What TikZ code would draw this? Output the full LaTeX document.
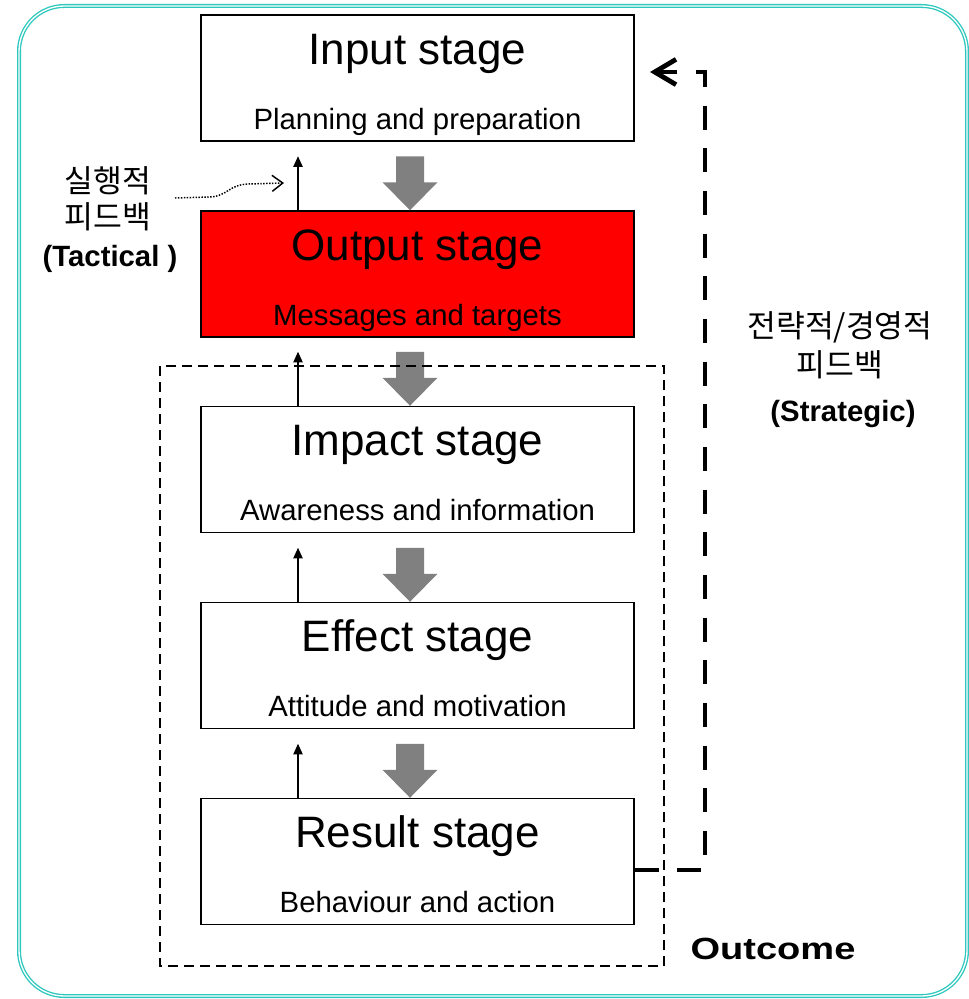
\documentclass[tikz,border=0pt]{standalone}
\usepackage{fontspec}
\setmainfont{Liberation Sans}
\newfontfamily\kr{Noto Sans CJK KR}
\usetikzlibrary{arrows.meta,calc}
\definecolor{frameteal}{RGB}{44,200,190}
\definecolor{stagered}{RGB}{255,0,0}
\definecolor{flowgray}{RGB}{128,128,128}

\tikzset{
  stagebox/.style={draw=black,line width=1.1pt,fill=white,
    minimum width=324.75pt,minimum height=94.5pt,inner sep=0pt},
  stagetitle/.style={anchor=base,inner sep=0pt,font=\fontsize{33}{36}\selectfont},
  stagesub/.style={anchor=base,inner sep=0pt,font=\fontsize{22}{24}\selectfont},
  krlabel/.style={anchor=base,inner sep=0pt,font=\kr\fontsize{23.5}{26}\selectfont},
  boldlabel/.style={anchor=base,inner sep=0pt,font=\bfseries\fontsize{22}{24}\selectfont},
  tacup/.style={line width=1.1pt,-{Triangle[length=8pt,width=7pt]}},
  strat/.style={line width=3.6pt,dash pattern=on 18pt off 14pt,
    -{Straight Barb[length=16pt,width=19pt]}},
  outline/.style={line width=1.1pt,dash pattern=on 7.5pt off 4.5pt},
  grayarrow/.pic={
    \fill[flowgray] (0,0) -- (-27.5,-28) -- (-14,-28) -- (-14,-54)
      -- (14,-54) -- (14,-28) -- (27.5,-28) -- cycle;
  },
}

\begin{document}
\begin{tikzpicture}[x=0.75pt,y=-0.75pt]
\useasboundingbox (0,0) rectangle (969,999);

% outer frame
\draw[frameteal,line width=1pt,double=white,double distance=1pt,rounded corners=34pt]
  (19,6) rectangle (967,996);

% stage boxes
\node[stagebox] (input) at (417.5,78) {};
\node[stagebox,fill=stagered] (output) at (417.5,274) {};
\node[stagebox] (impact) at (417.5,469.5) {};
\node[stagebox] (effect) at (417.5,665.5) {};
\node[stagebox] (result) at (417.5,861.5) {};

% stage titles and subtitles
\foreach \b/\t/\s in {input/Input stage/Planning and preparation,
                      output/Output stage/Messages and targets,
                      impact/Impact stage/Awareness and information,
                      effect/Effect stage/Attitude and motivation,
                      result/Result stage/Behaviour and action}{
  \node[stagetitle] (\b T) at ($(\b.north)+(0,50)$) {\t};
  \node[stagesub] (\b S) at ($(\b.north)+(0,115)$) {\s};
}

% downward flow arrows
\pic at ($(output.north)+(-7.5,0)$) {grayarrow};
\pic at ($(impact.north)+(-7.5,0)$) {grayarrow};
\pic at ($(effect.north)+(-7.5,0)$) {grayarrow};
\pic at ($(result.north)+(-7.5,0)$) {grayarrow};

% tactical feedback arrows
\draw[tacup] ($(output.north)+(-119.5,0)$) -- ++(0,-54);
\draw[tacup] ($(impact.north)+(-119.5,0)$) -- ++(0,-54);
\draw[tacup] ($(effect.north)+(-119.5,0)$) -- ++(0,-54);
\draw[tacup] ($(result.north)+(-119.5,0)$) -- ++(0,-54);

% outcome region
\draw[outline] (160,366) rectangle (664,966);

% tactical label and pointer
\node[krlabel] (tacA) at (108,192) {실행적};
\node[krlabel] (tacB) at (108,228) {피드백};
\node[boldlabel] (tacC) at (110,266) {(Tactical )};
\coordinate (dotA) at (175,198);
\coordinate (dotB) at (284,183);
\draw[line width=1.1pt,dash pattern=on 1.1pt off 1.1pt,
      -{Straight Barb[length=8pt,width=12pt,line width=1.1pt]}]
  (dotA) -- (210,197) .. controls (228,196) and (228,185) .. (248,184) -- (dotB);

% strategic feedback loop
\coordinate (stratEnd) at (650,72);
\draw[strat] ([yshift=-6.4pt]result.east) -| (705,72) -- (stratEnd);
\node[krlabel] (strA) at (840,337) {전략적/경영적};
\node[krlabel] (strB) at (840,376) {피드백};
\node[boldlabel] (strC) at (843,421) {(Strategic)};

% outcome caption
\node[anchor=base,inner sep=0pt,font=\bfseries\fontsize{23}{26}\selectfont]
  (outcome) at (773,959) {\scalebox{1.24}[1]{Outcome}};
\end{tikzpicture}
\end{document}
